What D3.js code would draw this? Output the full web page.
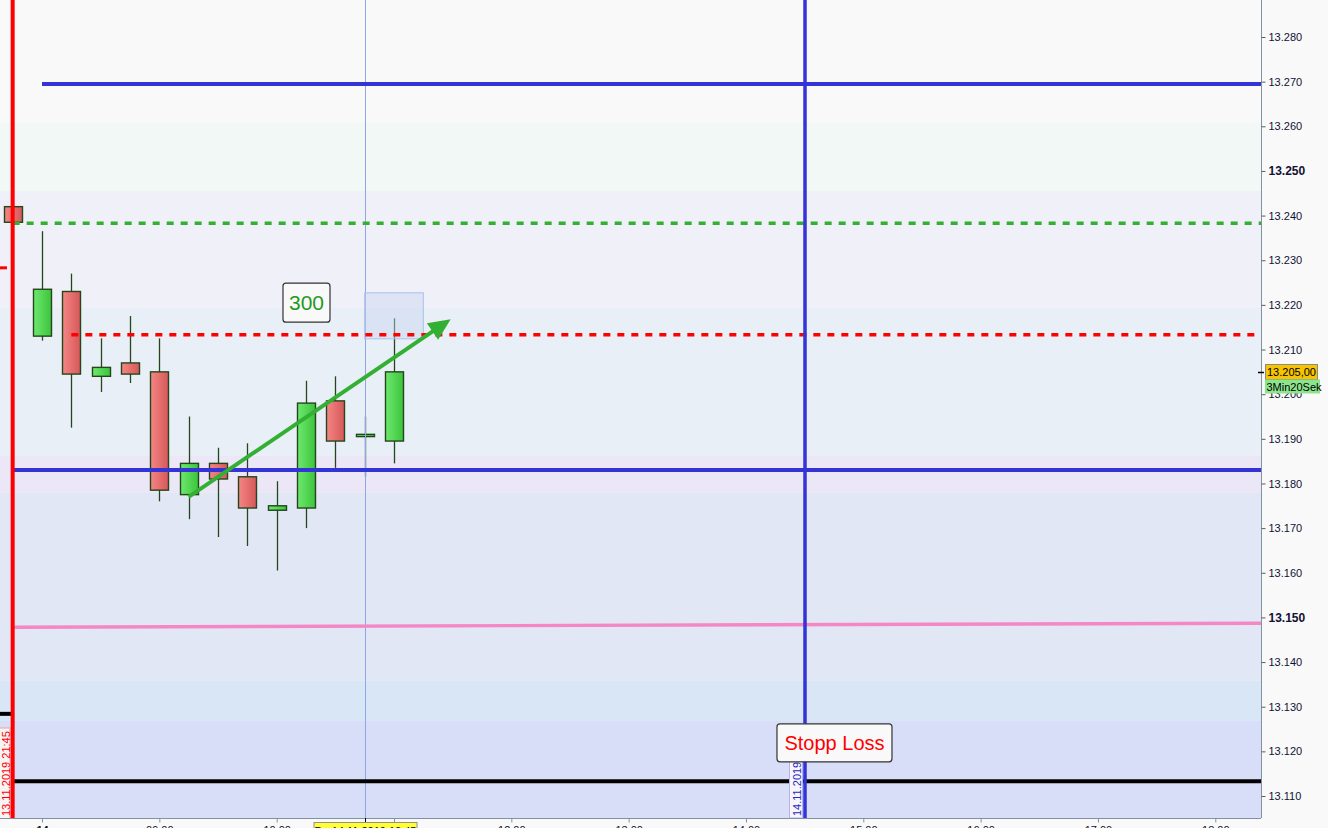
<!DOCTYPE html>
<html>
<head>
<meta charset="utf-8">
<script src="https://cdn.jsdelivr.net/npm/d3@7/dist/d3.min.js"></script>
<style>
  html, body { margin: 0; padding: 0; background: #f9f9f9; }
  svg { display: block; font-family: "Liberation Sans", Arial, sans-serif; }
</style>
</head>
<body>
<svg id="chart" width="1328" height="828"></svg>
<script>
// ---------------- DATA ----------------
// 15-minute candles; the first slot (07:45 on the session axis) holds the 13.11.2019 21:45 bar
const candleLabels = ["13.11.2019 21:45","08:00","08:15","08:30","08:45","09:00","09:15","09:30","09:45","10:00","10:15","10:30","10:45","11:00"];
const candleSlots  = ["07:45","08:00","08:15","08:30","08:45","09:00","09:15","09:30","09:45","10:00","10:15","10:30","10:45","11:00"];
const opens  = [13242.0,13213.0,13223.0,13204.0,13207.0,13205.0,13177.5,13184.5,13181.5,13174.0,13174.5,13198.5,13190.5,13189.5];
const highs  = [13242.0,13236.5,13227.0,13212.5,13217.5,13212.5,13195.0,13188.0,13189.0,13180.5,13203.0,13204.0,13195.0,13217.0];
const lows   = [13238.5,13212.0,13192.5,13200.5,13202.5,13176.0,13172.0,13168.0,13166.0,13160.5,13170.0,13183.5,13181.5,13184.5];
const closes = [13238.5,13223.5,13204.5,13206.0,13204.5,13178.5,13184.5,13181.0,13174.5,13175.0,13198.0,13189.5,13191.0,13205.0];

// y-axis ticks
const yTicks = [13110,13120,13130,13140,13150,13160,13170,13180,13190,13200,13210,13220,13230,13240,13250,13260,13270,13280];
const yBoldTicks = [13150,13250];
// x-axis ticks (hours) and labels
const xTickTimes  = ["08:00","09:00","10:00","11:00","12:00","13:00","14:00","15:00","16:00","17:00","18:00"];
const xTickLabels = ["14","09:00","10:00","11:00","12:00","13:00","14:00","15:00","16:00","17:00","18:00"];

// background price bands (upper, lower price) and their shades
const bandTops    = [13290.0,13260.9,13245.5,13219.3,13186.2,13177.9,13135.8,13126.8];
const bandBottoms = [13260.9,13245.5,13219.3,13186.2,13177.9,13135.8,13126.8,13100.0];

// horizontal levels
const levelNames  = ["resistance","greenTarget","redEntry","support","pink","stopLoss"];
const levelStart  = ["08:00","07:45","08:15","07:45","07:45","07:45"];
const levelLeft   = [13269.5,13238.3,13213.3,13183.0,13147.8,13113.3];
const levelRight  = [13269.5,13238.3,13213.3,13183.0,13148.7,13113.3];

// small level markers left of the red line
const leftMarkerValues = [13228.3,13128.4];

// vertical lines
const redLineSlot = "07:45", redLineLabel = "13.11.2019 21:45";
const blueLineTime = "14:30", blueLineLabel = "14.11.2019";
const crosshairTime = "10:45", crosshairLabel = "Do 14.11.2019 10:45";

// arrow (time, price)
const arrowFrom = ["09:15", 13177.0];
const arrowTo   = ["11:29", 13216.8];

// annotations
const boxText300 = "300", box300At = ["10:15", 13220.5];
const stopText = "Stopp Loss", stopAt = ["14:45", 13121.9];
const selFrom = ["10:45", 13222.7], selTo = ["11:15", 13212.4];

// current price
const lastPrice = 13205.00;
const timerText = "3Min20Sek";

// ---------------- CHART ----------------
const W = 1328, H = 828, plotR = 1261, plotB = 818;
const svg = d3.select("#chart");
const de = d3.formatLocale({decimal: ",", thousands: ".", grouping: [3], currency: ["", " €"]});
const fmtTick = de.format(",");
const fmtPrice = de.format(",.2f");

const T = s => { const [h, m] = s.split(":").map(Number); return new Date(2019, 10, 14, h, m); };
const x = d3.scaleTime().domain([T("08:00"), T("18:00")]).range([42, 1215.3]);
const y = d3.scaleLinear().domain([13110, 13280]).range([796, 37]);

const bandColors = ["#f9f9f9","#f1f8f6","#f0f0f8","#e9eff7","#ebe7f7","#e2e7f6","#d9e6f6","#d8def7"];

const defs = svg.append("defs");
defs.append("clipPath").attr("id","plotclip").append("rect").attr("x",0).attr("y",0).attr("width",plotR).attr("height",plotB);
const gGreen = defs.append("linearGradient").attr("id","gGreen").attr("x1","0").attr("x2","1").attr("y1","0").attr("y2","0");
gGreen.append("stop").attr("offset","0").attr("stop-color","#6ee86e");
gGreen.append("stop").attr("offset","1").attr("stop-color","#3cc43c");
const gRed = defs.append("linearGradient").attr("id","gRed").attr("x1","0").attr("x2","1").attr("y1","0").attr("y2","0");
gRed.append("stop").attr("offset","0").attr("stop-color","#f58686");
gRed.append("stop").attr("offset","1").attr("stop-color","#d65858");

const plot = svg.append("g").attr("clip-path","url(#plotclip)");

// bands
plot.selectAll("rect.band").data(bandTops).join("rect")
  .attr("x",0).attr("width",plotR)
  .attr("y",(d)=>y(d))
  .attr("height",(d,i)=>y(bandBottoms[i]) - y(d))
  .attr("fill",(d,i)=>bandColors[i]);

// candles
const slotW = x(T("08:15")) - x(T("08:00"));
const bw = Math.round(slotW * 0.6);
const candles = candleSlots.map((s,i)=>({t:T(s), o:opens[i], h:highs[i], l:lows[i], c:closes[i], label:candleLabels[i]}));
const cg = plot.append("g");
cg.selectAll("line.wick").data(candles).join("line")
  .attr("x1",d=>Math.round(x(d.t))+0.5).attr("x2",d=>Math.round(x(d.t))+0.5)
  .attr("y1",d=>y(d.h)).attr("y2",d=>y(d.l))
  .attr("stroke","#24461c").attr("stroke-width",1.3);
cg.selectAll("rect.body").data(candles).join("rect")
  .attr("x",d=>Math.round(x(d.t)) - bw/2 + 0.5)
  .attr("width",bw)
  .attr("y",d=>y(Math.max(d.o,d.c)))
  .attr("height",d=>Math.max(2, Math.abs(y(d.o)-y(d.c))))
  .attr("fill",d=>d.c>=d.o ? "url(#gGreen)" : "url(#gRed)")
  .attr("stroke","#24461c").attr("stroke-width",1.4);

// crosshair vertical
plot.append("line")
  .attr("x1",Math.round(x(T(crosshairTime)))+0.5).attr("x2",Math.round(x(T(crosshairTime)))+0.5)
  .attr("y1",0).attr("y2",plotB)
  .attr("stroke","#8ea6e6").attr("stroke-width",1);

// selection rectangle
plot.append("rect")
  .attr("x",x(T(selFrom[0]))).attr("y",y(selFrom[1]))
  .attr("width",x(T(selTo[0]))-x(T(selFrom[0])))
  .attr("height",y(selTo[1])-y(selFrom[1]))
  .attr("fill","rgba(200,212,240,0.45)").attr("stroke","#a9c0f0").attr("stroke-width",1);

// horizontal levels
const levelStyles = {
  resistance: {stroke:"#3333d6", w:4, dash:null},
  greenTarget:{stroke:"#33b033", w:3.6, dash:"7,7"},
  redEntry:   {stroke:"#ff0000", w:3.4, dash:"7,7"},
  support:    {stroke:"#3333d6", w:4, dash:null},
  pink:       {stroke:"#f487c4", w:3.4, dash:null},
  stopLoss:   {stroke:"#000000", w:4, dash:null}
};
levelNames.forEach((n,i)=>{
  const st = levelStyles[n];
  const x0 = x(T(levelStart[i]));
  const slope = (levelRight[i]-levelLeft[i]) / (plotR - x(T("07:45")));
  const vAt = px => levelLeft[i] + slope*(px - x(T("07:45")));
  plot.append("line")
    .attr("x1",x0).attr("x2",plotR)
    .attr("y1",y(vAt(x0))).attr("y2",y(vAt(plotR)))
    .attr("stroke",st.stroke).attr("stroke-width",st.w)
    .attr("stroke-dasharray",st.dash);
});

// small left markers
plot.append("line").attr("x1",0).attr("x2",7).attr("y1",y(leftMarkerValues[0])).attr("y2",y(leftMarkerValues[0]))
  .attr("stroke","#ff0000").attr("stroke-width",3);
plot.append("line").attr("x1",0).attr("x2",11).attr("y1",y(leftMarkerValues[1])).attr("y2",y(leftMarkerValues[1]))
  .attr("stroke","#000").attr("stroke-width",4);

// arrow
{
  const x1 = x(T(arrowFrom[0])), y1 = y(arrowFrom[1]);
  const x2 = x(T(arrowTo[0])), y2 = y(arrowTo[1]);
  const ang = Math.atan2(y2-y1, x2-x1);
  const L = 22, hw = 10;
  const bx = x2 - L*Math.cos(ang), by = y2 - L*Math.sin(ang);
  plot.append("line").attr("x1",x1).attr("y1",y1).attr("x2",bx+2*Math.cos(ang)).attr("y2",by+2*Math.sin(ang))
    .attr("stroke","#33b033").attr("stroke-width",4);
  const px = -Math.sin(ang), py = Math.cos(ang);
  plot.append("path")
    .attr("d",`M${x2},${y2}L${bx+hw*px},${by+hw*py}L${bx-hw*px},${by-hw*py}Z`)
    .attr("fill","#33b033");
}

// blue vertical line + label
{
  const bx = Math.round(x(T(blueLineTime)));
  plot.append("line").attr("x1",bx).attr("x2",bx).attr("y1",0).attr("y2",plotB)
    .attr("stroke","#3333d6").attr("stroke-width",3.5);
  plot.append("rect").attr("x",bx-15.5).attr("y",plotB-58).attr("width",13).attr("height",58)
    .attr("fill","#f6f6fc").attr("stroke","#b4b4e6").attr("stroke-width",1);
  plot.append("text").attr("transform",`translate(${bx-4},${plotB-2}) rotate(-90)`)
    .attr("font-size",11).attr("fill","#2828c0").text(blueLineLabel);
}

// red vertical line + label
{
  const rx = x(T(redLineSlot));
  plot.append("rect").attr("x",-1).attr("y",plotB-90).attr("width",11).attr("height",91)
    .attr("fill","#f8f4f6").attr("stroke","#f2a0a0").attr("stroke-width",1);
  plot.append("text").attr("transform",`translate(9.5,${plotB-2}) rotate(-90)`)
    .attr("font-size",11).attr("fill","#ff0000").text(redLineLabel);
  plot.append("line").attr("x1",rx).attr("x2",rx).attr("y1",0).attr("y2",plotB)
    .attr("stroke","#ff0000").attr("stroke-width",4);
}

// "300" box
{
  const cx = x(T(box300At[0])), cy = y(box300At[1]);
  plot.append("rect").attr("x",cx-23).attr("y",cy-19.5).attr("width",47).attr("height",39).attr("rx",3)
    .attr("fill","#f9f9f9").attr("stroke","#333").attr("stroke-width",1.2);
  plot.append("text").attr("x",cx+0.5).attr("y",cy+7.5).attr("text-anchor","middle")
    .attr("font-size",21).attr("fill","#1f9a1f").text(boxText300);
}

// Stopp Loss box
{
  const cx = x(T(stopAt[0])), cy = y(stopAt[1]);
  plot.append("rect").attr("x",cx-57).attr("y",cy-19).attr("width",115).attr("height",38).attr("rx",3)
    .attr("fill","#f9f9f9").attr("stroke","#333").attr("stroke-width",1.2);
  plot.append("text").attr("x",cx+0.5).attr("y",cy+7.5).attr("text-anchor","middle")
    .attr("font-size",20).attr("fill","#ff0000").text(stopText);
}

// ---------------- AXES ----------------
const axisColor = "#8193a3";
// right y axis
const yAxis = d3.axisRight(y).tickValues(yTicks).tickSize(4).tickPadding(3).tickFormat(fmtTick);
const gy = svg.append("g").attr("transform",`translate(${plotR+0.5},0)`).call(yAxis);
gy.select(".domain").attr("d",`M0,0V${plotB}`).attr("stroke",axisColor);
gy.selectAll(".tick line").attr("stroke","#55606a");
gy.selectAll(".tick text").attr("font-size",11).attr("fill","#111133")
  .attr("font-family","'Liberation Sans', Arial, sans-serif")
  .attr("font-weight",d=>yBoldTicks.includes(d)?"bold":"normal")
  .attr("font-size",d=>yBoldTicks.includes(d)?12:11);

// bottom x axis
const xAxis = d3.axisBottom(x).tickValues(xTickTimes.map(T)).tickSize(4).tickPadding(4)
  .tickFormat((d,i)=>xTickLabels[i]);
const gx = svg.append("g").attr("transform",`translate(0,${plotB+0.5})`).call(xAxis);
gx.select(".domain").attr("d",`M0,0H${plotR}`).attr("stroke",axisColor);
gx.selectAll(".tick line").attr("stroke",axisColor);
gx.selectAll(".tick text").attr("font-size",11).attr("fill","#111")
  .attr("font-family","'Liberation Sans', Arial, sans-serif")
  .attr("font-weight",(d,i)=>i===0?"bold":"normal");

// crosshair time label at bottom
{
  const cx = Math.round(x(T(crosshairTime)))+0.5;
  svg.append("rect").attr("x",cx-51.5).attr("y",plotB+4.5).attr("width",103).attr("height",16)
    .attr("fill","#ffff33").attr("stroke","#909090").attr("stroke-width",1);
  svg.append("text").attr("x",cx).attr("y",plotB+17).attr("text-anchor","middle")
    .attr("font-size",11).attr("fill","#000").text(crosshairLabel);
  svg.append("line").attr("x1",cx).attr("x2",cx).attr("y1",plotB).attr("y2",plotB+4).attr("stroke","#000");
}

// current price label
{
  const py = Math.round(y(lastPrice));
  svg.append("line").attr("x1",plotR-3).attr("x2",plotR+3).attr("y1",py+0.5).attr("y2",py+0.5).attr("stroke","#000").attr("stroke-width",1.5);
  svg.append("rect").attr("x",plotR+4.5).attr("y",py-7.5).attr("width",52).attr("height",15)
    .attr("fill","#f6c400").attr("stroke","#8a8a8a").attr("stroke-width",1);
  svg.append("text").attr("x",plotR+6).attr("y",py+4).attr("font-size",11).attr("fill","#000")
    .text(fmtPrice(lastPrice));
  svg.append("rect").attr("x",plotR+4).attr("y",py+7.5).attr("width",55).attr("height",14)
    .attr("fill","#8ce48c");
  svg.append("text").attr("x",plotR+5.5).attr("y",py+18.5).attr("font-size",11).attr("fill","#000")
    .text(timerText);
}
</script>
</body>
</html>
